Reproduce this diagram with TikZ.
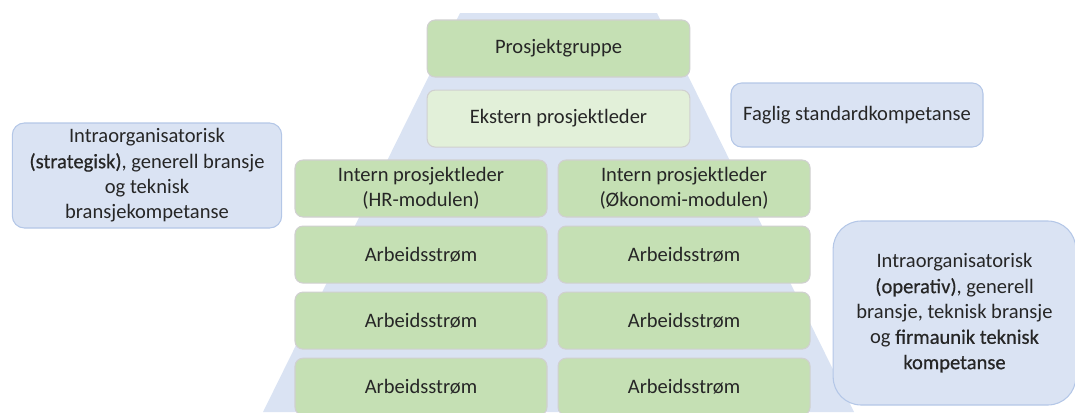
\documentclass[tikz,border=0pt]{standalone}
\usepackage{fontspec}
\setmainfont{Carlito}
\newfontfamily\sterk[FakeBold=0.6]{Carlito}
\usetikzlibrary{positioning}

\definecolor{gronn}{HTML}{C5E0B4}
\definecolor{lysgronn}{HTML}{E2F0D9}
\definecolor{lysblaa}{HTML}{DAE3F3}
\definecolor{blaakant}{HTML}{B4C7E7}
\definecolor{graakant}{HTML}{D0D0D0}
\definecolor{tekst}{HTML}{262626}

\begin{document}
\begin{tikzpicture}[x=0.75pt,y=-0.75pt,
  font=\fontsize{15.4}{19}\selectfont, text=tekst,
  node distance=6pt and 7.5pt,
  blokk/.style={draw=graakant, fill=gronn, rounded corners=6pt, line width=.8pt,
    align=center, minimum width=189pt, minimum height=42.75pt, inner sep=2pt},
  kompetanse/.style={draw=blaakant, fill=lysblaa, line width=.8pt,
    align=center, inner sep=4pt}
]
  \useasboundingbox (0,0) rectangle (1075,412);

  % pyramiden bak boksene
  \fill[lysblaa] (460,13) -- (657,13) -- (854,412) -- (263,412) -- cycle;

  % prosjektorganisasjonen
  \node[blokk, minimum width=197pt] (gruppe) at (558.5,48.5) {Prosjektgruppe};
  \node[blokk, fill=lysgronn, minimum width=197pt, below=9pt of gruppe] (ekstern)
    {Ekstern prosjektleder};

  \node[blokk] (hr) at (421,188.5) {Intern prosjektleder\\(HR-modulen)};
  \node[blokk, right=of hr] (okonomi) {Intern prosjektleder\\(Økonomi-modulen)};

  \node[blokk, below=of hr] (hrA) {Arbeidsstrøm};
  \node[blokk, below=of hrA] (hrB) {Arbeidsstrøm};
  \node[blokk, below=of hrB] (hrC) {Arbeidsstrøm};
  \node[blokk, below=of okonomi] (okA) {Arbeidsstrøm};
  \node[blokk, below=of okA] (okB) {Arbeidsstrøm};
  \node[blokk, below=of okB] (okC) {Arbeidsstrøm};

  % kompetanse
  \node[kompetanse, rounded corners=9pt, minimum width=202pt, minimum height=78.75pt]
    (strategisk) at (147,175.5)
    {Intraorganisatorisk\\{\sterk(strategisk)}, generell bransje\\og teknisk\\bransjekompetanse};
  \node[kompetanse, rounded corners=8pt, minimum width=189pt, minimum height=48pt]
    (faglig) at (857,115) {Faglig standardkompetanse};
  \node[kompetanse, rounded corners=21pt, minimum width=182pt, minimum height=138pt]
    (operativ) at (954.5,313)
    {Intraorganisatorisk\\{\sterk(operativ)}, generell\\bransje, teknisk bransje\\og {\sterk firmaunik teknisk}\\{\sterk kompetanse}};
\end{tikzpicture}
\end{document}
